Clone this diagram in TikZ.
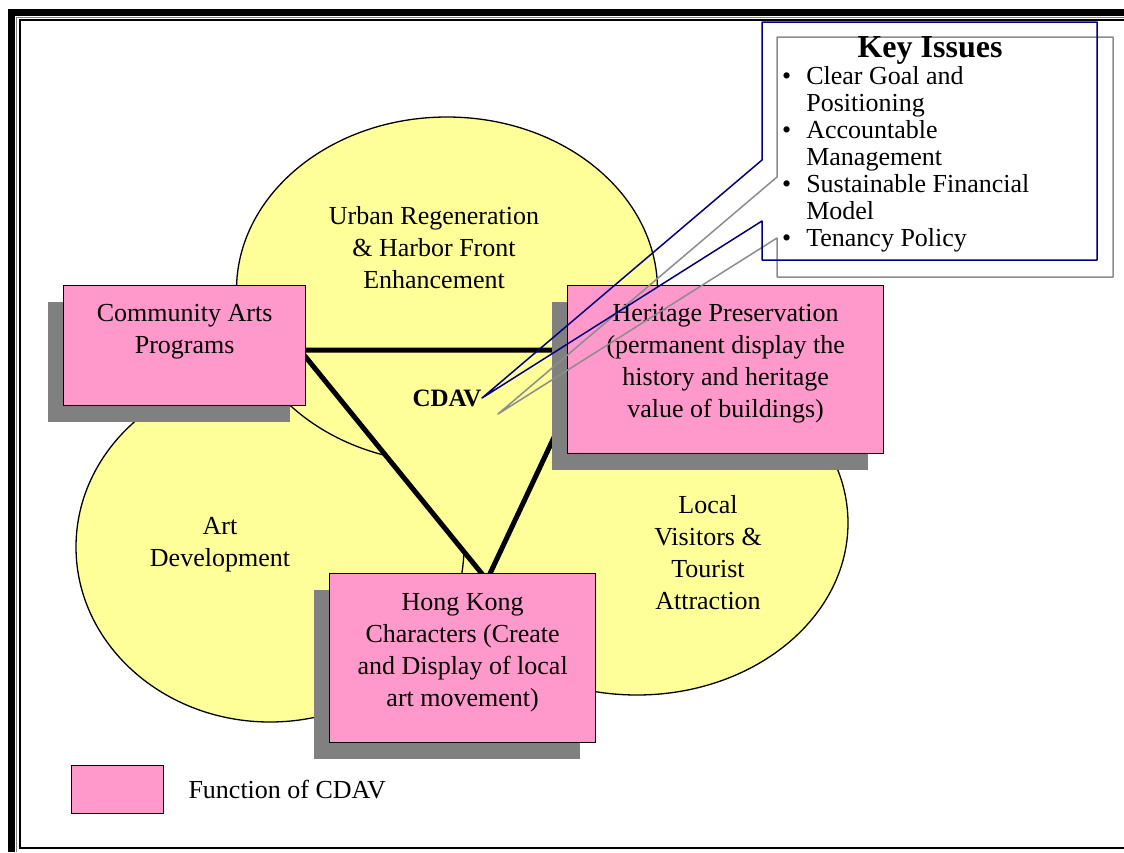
\documentclass[tikz,border=0pt]{standalone}
\usepackage{fontspec}
\setmainfont{Liberation Serif}
\usetikzlibrary{shapes.geometric,shadows,positioning}
\definecolor{zoneyellow}{HTML}{FFFF99}
\definecolor{funcpink}{HTML}{FF99CC}
\definecolor{shadowgray}{HTML}{808080}
\definecolor{calloutblue}{HTML}{000080}
\definecolor{calloutgray}{HTML}{8C8C8C}

\begin{document}
\begin{tikzpicture}[>=latex, x=1pt, y=-1pt]
        %[every node/.style={scale=1}]
        \tikzstyle{zone} = [draw, fill=zoneyellow, ellipse, 
            line width=1.3pt, inner sep=0pt]
        \tikzstyle{zoneText} = [align=center, inner sep=0pt, 
            font=\fontsize{26}{32}\selectfont]
        \tikzstyle{func} = [draw, fill=funcpink, rectangle, line width=1.3pt, 
            anchor=north west, inner sep=0pt,
            drop shadow={shadow xshift=-16pt, shadow yshift=-16pt, 
            fill=shadowgray, opacity=1}]
        \tikzstyle{funcText} = [align=center, inner sep=0pt, 
            font=\fontsize{26}{32}\selectfont];
        \tikzstyle{link} = [draw=black, fill=zoneyellow, line width=5pt];
        \tikzstyle{callout} = [line width=1.5pt, line join=round];

        \useasboundingbox (0,0) rectangle (1124,852);

        % frame
        \fill[black] (8,9) rectangle (1124,16);
        \fill[black] (8,9) rectangle (15,852);
        \draw[shadowgray, line width=1pt] (16.5,852) -- (16.5,17.5) -- (1124,17.5);
        \draw[black, line width=2pt] (1124,19.5) -- (19.5,19.5) 
            -- (19.5,848) -- (1124,848);

        % the three zones
        \node[zone, minimum width=422, minimum height=344] (visitZone) at (637,523) {};
        \node[zone, minimum width=388, minimum height=350] (artZone) at (270,547) {};
        \node[zone, minimum width=421, minimum height=346] (urbanZone) at (447,290) {};

        % triangle between the functions
        \coordinate (triA) at (300,350);
        \coordinate (triB) at (595,350);
        \coordinate (triC) at (487,580);
        \draw[link] (triA) -- (triB) -- (triC) -- cycle;

        \node[zoneText] (urbanText) at (434,248) 
            {Urban Regeneration\\\& Harbor Front\\Enhancement};
        \node[zoneText] (artText) at (220,545) {Art\\Development};
        \node[zoneText] (visitText) at (708,553) 
            {Local\\Visitors \&\\Tourist\\Attraction};

        % functions of CDAV
        \node[func, minimum width=242, minimum height=120] (commBox) at (63,285) {};
        \node[funcText, below=19pt of commBox.north] (commText) 
            {Community Arts\\Programs};
        \node[func, minimum width=316, minimum height=168] (heritBox) at (567,285) {};
        \node[funcText, below=19pt of heritBox.north] (heritText) 
            {Heritage Preservation\\(permanent display the\\history and heritage\\value of buildings)};
        \node[func, minimum width=266, minimum height=169] (hkBox) at (329,573) {};
        \node[funcText, below=20pt of hkBox.north] (hkText) 
            {Hong Kong\\Characters (Create\\and Display of local\\art movement)};

        \node[font=\fontsize{25}{30}\selectfont\bfseries, inner sep=0pt] 
            (cdav) at (447,398) {CDAV};

        % key issues callouts
        \coordinate (grayTip) at (498,414);
        \coordinate (blueTip) at (482,398);
        \draw[callout, calloutgray] (777,37) -- (1113,37) -- (1113,277) 
            -- (777,277) -- (777,238) -- (grayTip) -- (777,177) -- cycle;
        \draw[callout, calloutblue] (762,22) -- (1097,22) -- (1097,260) 
            -- (762,260) -- (762,221) -- (blueTip) -- (762,160) -- cycle;

        \node[font=\fontsize{32}{36}\selectfont\bfseries, inner sep=0pt] 
            (keyTitle) at (930,50) {Key Issues};
        \node[anchor=north west, inner sep=0pt, font=\fontsize{26}{27}\selectfont] 
            (keyList) at (782,65) {%
            \begin{tabular}{@{}l@{\hspace{15pt}}l@{}}
            \textbullet & Clear Goal and\\
                        & Positioning\\
            \textbullet & Accountable\\
                        & Management\\
            \textbullet & Sustainable Financial\\
                        & Model\\
            \textbullet & Tenancy Policy
            \end{tabular}};

        % legend
        \node[draw, fill=funcpink, line width=1.3pt, anchor=north west, 
            minimum width=92, minimum height=48] (legendBox) at (71,765) {};
        \node[right=24pt of legendBox, inner sep=0pt, 
            font=\fontsize{26}{32}\selectfont] (legendText) {Function of CDAV};
    \end{tikzpicture}
\end{document}
